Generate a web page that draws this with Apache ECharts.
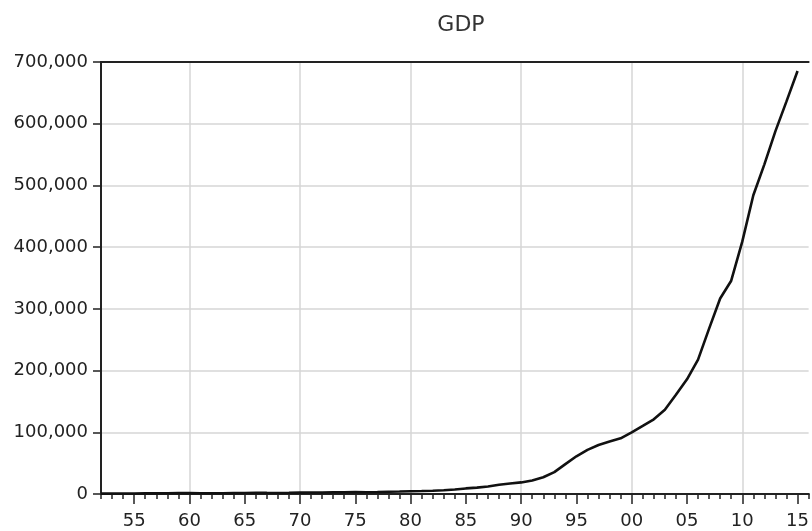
<!DOCTYPE html>
<html>
<head>
<meta charset="utf-8">
<script src="https://cdn.jsdelivr.net/npm/echarts@6/dist/echarts.min.js"></script>
<style>html,body{margin:0;padding:0;background:#fff;}#c{width:812px;height:531px;}</style>
</head>
<body>
<div id="c"></div>
<script>
var title = 'GDP';
var years = [1952,1953,1954,1955,1956,1957,1958,1959,1960,1961,1962,1963,1964,1965,1966,1967,1968,1969,1970,1971,1972,1973,1974,1975,1976,1977,1978,1979,1980,1981,1982,1983,1984,1985,1986,1987,1988,1989,1990,1991,1992,1993,1994,1995,1996,1997,1998,1999,2000,2001,2002,2003,2004,2005,2006,2007,2008,2009,2010,2011,2012,2013,2014,2015];
var gdp = [679,824,859,910,1028,1068,1307,1439,1457,1220,1149,1233,1454,1716,1868,1774,1723,1938,2253,2426,2518,2721,2790,2997,2944,3202,3650,4068,4552,4898,5333,5976,7226,9040,10309,12102,15101,17090,18774,21896,27068,35524,48460,61130,71572,79430,84884,90188,99776,110270,121002,136565,160714,185896,217657,268019,316752,345629,408903,484124,534123,588019,636139,685506];
var xLabelYears = [1955,1960,1965,1970,1975,1980,1985,1990,1995,2000,2005,2010,2015];
var xGridYears = [1960,1970,1980,1990,2000,2010];
var yTicks = [0,100000,200000,300000,400000,500000,600000,700000];

var font = 'DejaVu Sans';
var pts = years.map(function(y,i){return [y, gdp[i]];});
var chart = echarts.init(document.getElementById('c'));
chart.setOption({
  animation: false,
  title: {text: title, left: 456, textAlign: 'center', top: 9,
    textStyle: {fontFamily: font, fontSize: 22, fontWeight: 'normal', color: '#333'}},
  grid: {left: 101, right: 0, top: 62, bottom: 37, containLabel: false},
  xAxis: [
    {type: 'value', min: 1952, max: 2016, position: 'bottom',
      axisLine: {show: true, onZero: false, lineStyle: {color: '#222', width: 2}},
      axisTick: {show: true, length: 10, customValues: xLabelYears, lineStyle: {color: '#222', width: 1.5}},
      axisLabel: {show: true, customValues: xLabelYears, margin: 18,
        fontFamily: font, fontSize: 18, color: '#222',
        formatter: function(v){ var s = String(v % 100); return s.length < 2 ? '0' + s : s; }},
      splitLine: {show: false}},
    {type: 'value', min: 1952, max: 2016, interval: 1, position: 'bottom',
      axisLine: {show: true, onZero: false, lineStyle: {color: '#222', width: 2}},
      axisTick: {show: true, length: 5, lineStyle: {color: '#222', width: 1.5}},
      axisLabel: {show: false}, splitLine: {show: false}},
    {type: 'value', min: 1952, max: 2016, position: 'top',
      axisLine: {show: true, onZero: false, lineStyle: {color: '#222', width: 2}},
      axisTick: {show: false, customValues: xGridYears},
      axisLabel: {show: false},
      splitLine: {show: true, lineStyle: {color: '#d6d6d6', width: 1.5}}}
  ],
  yAxis: {type: 'value', min: 0, max: 700000, interval: 100000,
    axisLine: {show: true, lineStyle: {color: '#222', width: 2}},
    axisTick: {show: true, length: 8, lineStyle: {color: '#222', width: 1.5}},
    axisLabel: {margin: 13, fontFamily: font, fontSize: 18, color: '#222',
      formatter: function(v){ return v.toLocaleString('en-US'); }},
    splitLine: {show: true, lineStyle: {color: '#d6d6d6', width: 1.5}}},
  series: [{type: 'line', xAxisIndex: 0, data: pts, showSymbol: false, symbol: 'none',
    lineStyle: {color: '#111', width: 2.6}, z: 5}]
});
</script>
</body>
</html>
